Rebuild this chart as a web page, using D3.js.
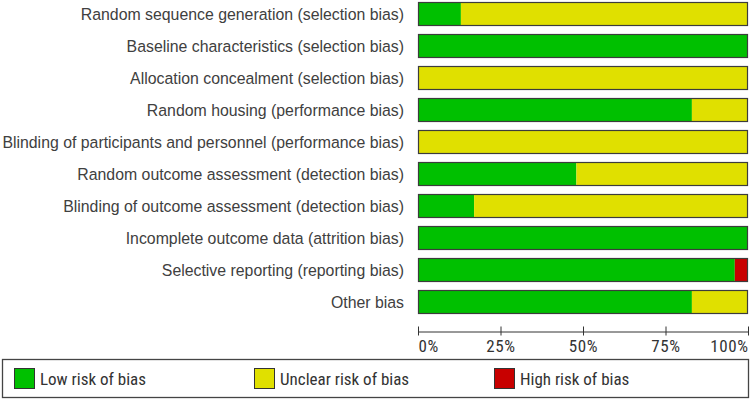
<!DOCTYPE html>
<html>
<head>
	<title>Risk of bias graph</title>
	<script src="https://d3js.org/d3.v7.min.js"></script>
	<style>
		body { margin: 0; background: #fff; }
		svg { display: block; }
		.lbl { font-family: "Liberation Sans", Arial, sans-serif; font-size: 15.85px; fill: #404040; }
		.narrow { font-family: "Roboto Condensed", "DejaVu Sans Condensed", sans-serif; fill: #333; }
	</style>
</head>
<body>
	<svg width="752" height="401"></svg>

<script>
	// risk of bias domains, top to bottom
	const domains = [
		"Random sequence generation (selection bias)",
		"Baseline characteristics (selection bias)",
		"Allocation concealment (selection bias)",
		"Random housing (performance bias)",
		"Blinding of participants and personnel (performance bias)",
		"Random outcome assessment (detection bias)",
		"Blinding of outcome assessment (detection bias)",
		"Incomplete outcome data (attrition bias)",
		"Selective reporting (reporting bias)",
		"Other bias"
	];
	// percentage of studies per judgement
	const lowRisk     = [13, 100, 0,   83, 0,   48, 17, 100, 96, 83];
	const unclearRisk = [87, 0,   100, 17, 100, 52, 83, 0,   0,  17];
	const highRisk    = [0,  0,   0,   0,  0,   0,  0,  0,   4,  0];
	const tickValues = [0, 25, 50, 75, 100];
	const tickLabels = ["0%", "25%", "50%", "75%", "100%"];
	const legendLabels = ["Low risk of bias", "Unclear risk of bias", "High risk of bias"];

	const colors = ["#00c000", "#e0e000", "#c80000"];

	const svg = d3.select("svg");

	const x = d3.scaleLinear().domain([0, 100]).range([418, 748]);
	const y = d3.scaleBand().domain(domains).range([-2, 318]).paddingInner(0.25).paddingOuter(0.125);

	const rows = domains.map((d, i) => ({
		name: d,
		parts: [lowRisk[i], unclearRisk[i], highRisk[i]]
	}));

	// stacked segments
	rows.forEach(row => {
		let start = 0;
		row.parts.forEach((v, k) => {
			if (v > 0) {
				svg.append("rect")
					.attr("x", x(start))
					.attr("y", y(row.name))
					.attr("width", x(start + v) - x(start))
					.attr("height", y.bandwidth())
					.attr("fill", colors[k]);
			}
			start += v;
		});
	});

	// outline of each bar
	svg.selectAll(".frame")
		.data(domains)
		.enter()
		.append("rect").attr("class", "frame")
		.attr("x", x(0) + 0.5)
		.attr("y", d => y(d) + 0.5)
		.attr("width", x(100) - x(0) - 1)
		.attr("height", y.bandwidth() - 1)
		.attr("fill", "none")
		.attr("stroke", "#3c3c3c")
		.attr("stroke-width", 1.2);

	// row labels
	svg.selectAll(".lbl")
		.data(domains)
		.enter()
		.append("text").attr("class", "lbl")
		.attr("x", 404)
		.attr("y", d => y(d) + y.bandwidth() / 2 + 6)
		.attr("text-anchor", "end")
		.text(d => d);

	// x axis
	const xAxis = d3.axisBottom(x)
		.tickValues(tickValues)
		.tickSizeOuter(0)
		.tickFormat((d, i) => tickLabels[i]);

	const ax = svg.append("g")
		.attr("transform", "translate(0,331.5)")
		.call(xAxis);
	ax.select(".domain").attr("stroke", "#333");
	ax.selectAll(".tick line").attr("y1", -5).attr("y2", 4).attr("stroke", "#333");
	ax.selectAll(".tick text")
		.attr("class", "narrow")
		.attr("y", 20)
		.attr("dy", 0)
		.style("font-size", "17px")
		.style("letter-spacing", "0.6px")
		.attr("fill", "#333")
		.attr("text-anchor", (d, i) => i === 0 ? "start" : (i === tickValues.length - 1 ? "end" : "middle"));

	// legend
	const legend = svg.append("g");
	legend.append("rect")
		.attr("x", 2.5).attr("y", 359.5)
		.attr("width", 746).attr("height", 38)
		.attr("fill", "#fff")
		.attr("stroke", "#444")
		.attr("stroke-width", 1.3);

	const legendX = [14, 254, 494];
	legendLabels.forEach((t, i) => {
		legend.append("rect")
			.attr("x", legendX[i] + 0.5).attr("y", 368.5)
			.attr("width", 20).attr("height", 20)
			.attr("fill", colors[i])
			.attr("stroke", "#333");
		legend.append("text")
			.attr("class", "narrow")
			.attr("x", legendX[i] + 26)
			.attr("y", 384.5)
			.style("font-size", "17px")
			.text(t);
	});
</script>
</body>
</html>
